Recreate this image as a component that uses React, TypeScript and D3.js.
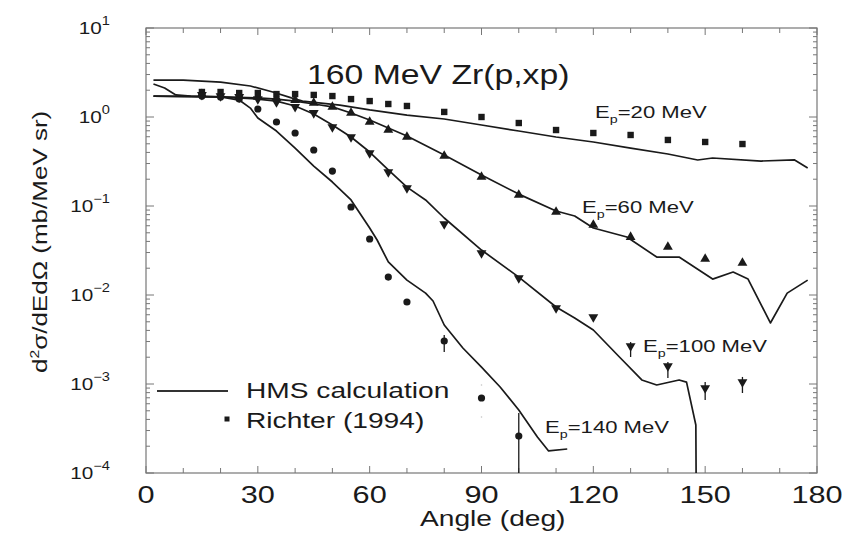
import * as d3 from 'd3';

// Richter (1994) data: angle (deg) -> d2sigma/dEdOmega (mb/MeV sr)
const DATA_ANGLES = [15, 20, 25, 30, 35, 40, 45, 50, 55, 60, 65, 70, 80, 90, 100, 110, 120, 130, 140, 150, 160];
const EXP_20 = [1.91, 1.91, 1.86, 1.86, 1.81, 1.81, 1.77, 1.72, 1.59, 1.51, 1.4, 1.33, 1.14, 1.0, 0.856, 0.714, 0.661, 0.628, 0.552, 0.524, 0.497];
const EXP_60 = [1.81, 1.77, 1.72, 1.68, 1.64, 1.55, 1.44, 1.3, 1.11, 0.879, 0.714, 0.596, 0.365, 0.212, 0.133, 0.0856, 0.0612, 0.0448, 0.0346, 0.0254, 0.0229];
const EXP_100 = [1.77, 1.72, 1.68, 1.59, 1.47, 1.3, 1.11, 0.772, 0.596, 0.394, 0.241, 0.159, 0.0628, 0.0296, 0.0155, 0.00714, 0.00566, 0.00267, 0.00159, 0.000902, 0.00105];
const EXP_140 = [1.72, 1.68, 1.59, 1.23, 0.879, 0.661, 0.426, 0.247, 0.0974, 0.0426, 0.0159, 0.00834, 0.00304, 0.000696, 0.00026];

// error bars [angle, low, high]
const ERR_100 = [
  [130, 0.00201, 0.00296],
  [140, 0.00117, 0.00177],
  [150, 0.000661, 0.00105],
  [160, 0.000792, 0.0012],
];
const ERR_140 = [
  [80, 0.00229, 0.00355],
  [100, 0.00001, 0.000472],
];
const ERR_140_FAINT = [[90, 0.000415, 0.00103]];

// HMS calculation curves
const HMS_20_ANG = [2, 10, 20, 28, 34, 39, 42, 52, 60, 70, 80, 90, 100, 110, 120, 130, 140, 148, 152, 165, 174, 177.5];
const HMS_20 = [2.6, 2.6, 2.47, 2.23, 1.91, 1.64, 1.51, 1.36, 1.2, 1.05, 0.95, 0.813, 0.696, 0.596, 0.524, 0.448, 0.384, 0.329, 0.346, 0.32, 0.329, 0.267];
const HMS_60_ANG = [2, 20, 30, 35, 40, 45, 50, 55, 60, 65, 70, 80, 90, 100, 110, 115, 120, 129, 137, 143, 152, 157.5, 161.5, 167.5, 172, 177.5];
const HMS_60 = [1.72, 1.68, 1.64, 1.59, 1.51, 1.4, 1.3, 1.11, 0.925, 0.752, 0.612, 0.374, 0.223, 0.136, 0.0879, 0.0772, 0.0566, 0.0448, 0.0267, 0.0267, 0.0151, 0.0181, 0.0151, 0.00485, 0.0105, 0.0147];
const HMS_100_ANG = [2, 20, 30, 35, 40, 45, 50, 55, 60, 65, 70, 75, 80, 90, 100, 110, 115, 120, 127, 133, 137, 143, 145, 147.5, 147.7];
const HMS_100 = [1.72, 1.68, 1.59, 1.51, 1.33, 1.08, 0.813, 0.596, 0.404, 0.254, 0.163, 0.117, 0.0733, 0.032, 0.0159, 0.00733, 0.00551, 0.00404, 0.00201, 0.00111, 0.000974, 0.00111, 0.00105, 0.000346, 0.00001];
const HMS_140_ANG = [2, 5, 8, 12, 20, 25, 28, 30, 35, 40, 45, 50, 55, 60, 62, 65, 70, 75, 77, 80, 85, 90, 95, 100, 105, 108, 113];
const HMS_140 = [2.35, 2.12, 1.77, 1.72, 1.68, 1.55, 1.26, 0.974, 0.696, 0.448, 0.281, 0.186, 0.117, 0.0566, 0.0415, 0.0235, 0.0147, 0.0105, 0.00856, 0.0046, 0.00254, 0.00155, 0.000925, 0.00051, 0.000254, 0.000177, 0.000186];

const X_LABELS = [0, 30, 60, 90, 120, 150, 180];
const X_MINOR = d3.range(0, 181, 10);
const Y_EXPS = [1, 0, -1, -2, -3, -4];

const FONT = "'Liberation Sans', Arial, Helvetica, sans-serif";
const INK = '#1a1a1a';

function T({ x, y, size, anchor = 'start', sx = 1.28, rot = 0, children }: any) {
  return (
    <text
      transform={`translate(${x},${y})${rot ? ` rotate(${rot})` : ''} scale(${sx},1)`}
      fontSize={size}
      textAnchor={anchor}
      fontFamily={FONT}
      fill={INK}
    >
      {children}
    </text>
  );
}

export default function App() {
  const left = 146, right = 817, top = 28, bottom = 473;
  const x = d3.scaleLinear().domain([0, 180]).range([left, right]);
  const y = d3.scaleLog().domain([1e-4, 10]).range([bottom, top]);

  const line = d3.line<[number, number]>().x((d) => x(d[0])).y((d) => y(d[1]));
  const curves = [
    [HMS_20_ANG, HMS_20],
    [HMS_60_ANG, HMS_60],
    [HMS_100_ANG, HMS_100],
    [HMS_140_ANG, HMS_140],
  ].map(([a, v]) => line(a.map((t, i) => [t, v[i]] as [number, number]))!);

  const tri = d3.symbol(d3.symbolTriangle, 42)()!;
  const yTicks = y.ticks();

  return (
    <svg width={843} height={534} style={{ position: 'absolute', left: 0, top: 0, background: '#fff' }}>
      <defs>
        <clipPath id="plot">
          <rect x={left} y={top} width={right - left} height={bottom - top} />
        </clipPath>
      </defs>

      {/* frame + ticks */}
      <rect x={left} y={top} width={right - left} height={bottom - top} fill="none" stroke="#777" strokeWidth={1.2} />
      {X_MINOR.map((t) => (
        <g key={'xt' + t} stroke="#777" strokeWidth={1}>
          <line x1={x(t)} x2={x(t)} y1={bottom} y2={bottom - (t % 30 === 0 ? 7 : 5)} />
          <line x1={x(t)} x2={x(t)} y1={top} y2={top + (t % 30 === 0 ? 7 : 5)} />
        </g>
      ))}
      {yTicks.map((t, i) => {
        const major = Math.abs(Math.log10(t) - Math.round(Math.log10(t))) < 1e-9;
        const len = major ? 8 : 4;
        return (
          <g key={'yt' + i} stroke="#777" strokeWidth={1}>
            <line x1={left} x2={left + len} y1={y(t)} y2={y(t)} />
            <line x1={right} x2={right - len} y1={y(t)} y2={y(t)} />
          </g>
        );
      })}

      {/* tick labels */}
      {X_LABELS.map((t) => (
        <T key={'xl' + t} x={x(t)} y={503} size={24} anchor="middle">{t}</T>
      ))}
      {Y_EXPS.map((e) => (
        <T key={'yl' + e} x={110} y={y(Math.pow(10, e)) + 6} size={17} anchor="end" sx={1.22}>
          10<tspan dy={-9} fontSize={12}>{e < 0 ? '\u2212' + -e : e}</tspan>
        </T>
      ))}

      {/* axis titles */}
      <T x={420} y={526} size={22}>Angle (deg)</T>
      <T x={47} y={373} size={20} rot={-90} sx={1.3}>
        d<tspan dy={-8} fontSize={12}>2</tspan><tspan dy={8}>σ/dEdΩ (mb/MeV sr)</tspan>
      </T>

      {/* title */}
      <T x={307} y={84} size={27} sx={1.25}>160 MeV Zr(p,xp)</T>

      {/* curves */}
      <g clipPath="url(#plot)" fill="none" stroke={INK} strokeWidth={1.7} strokeLinejoin="round">
        {curves.map((d, i) => <path key={'c' + i} d={d} />)}
      </g>

      {/* error bars */}
      <g clipPath="url(#plot)" stroke={INK} strokeWidth={1.3}>
        {[...ERR_100, ...ERR_140].map(([a, lo, hi], i) => (
          <line key={'e' + i} x1={x(a)} x2={x(a)} y1={y(lo)} y2={y(hi)} />
        ))}
        {ERR_140_FAINT.map(([a, lo, hi], i) => (
          <line key={'ef' + i} x1={x(a)} x2={x(a)} y1={y(lo)} y2={y(hi)} stroke="#d8d8d8" strokeDasharray="2 30" />
        ))}
      </g>

      {/* data markers */}
      <g fill={INK}>
        {DATA_ANGLES.map((a, i) => (
          <rect key={'s' + i} x={x(a) - 3.2} y={y(EXP_20[i]) - 3.2} width={6.4} height={6.4} />
        ))}
        {DATA_ANGLES.map((a, i) => (
          <path key={'u' + i} d={tri} transform={`translate(${x(a)},${y(EXP_60[i])})`} />
        ))}
        {DATA_ANGLES.map((a, i) => (
          <path key={'d' + i} d={tri} transform={`translate(${x(a)},${y(EXP_100[i])}) rotate(180)`} />
        ))}
        {EXP_140.map((v, i) => (
          <circle key={'o' + i} cx={x(DATA_ANGLES[i])} cy={y(v)} r={3.6} />
        ))}
      </g>

      {/* energy labels */}
      <T x={595} y={118} size={17} sx={1.3}>E<tspan dy={5} fontSize={11}>p</tspan><tspan dy={-5}>=20 MeV</tspan></T>
      <T x={582} y={213} size={17} sx={1.3}>E<tspan dy={5} fontSize={11}>p</tspan><tspan dy={-5}>=60 MeV</tspan></T>
      <T x={643} y={352} size={17} sx={1.3}>E<tspan dy={5} fontSize={11}>p</tspan><tspan dy={-5}>=100 MeV</tspan></T>
      <T x={545} y={433} size={17} sx={1.3}>E<tspan dy={5} fontSize={11}>p</tspan><tspan dy={-5}>=140 MeV</tspan></T>

      {/* legend */}
      <line x1={157} x2={228} y1={391} y2={391} stroke="#333" strokeWidth={2} />
      <T x={246} y={398} size={22}>HMS calculation</T>
      <rect x={224.5} y={416.5} width={5} height={5} fill={INK} />
      <T x={246} y={428} size={22}>Richter (1994)</T>
    </svg>
  );
}
